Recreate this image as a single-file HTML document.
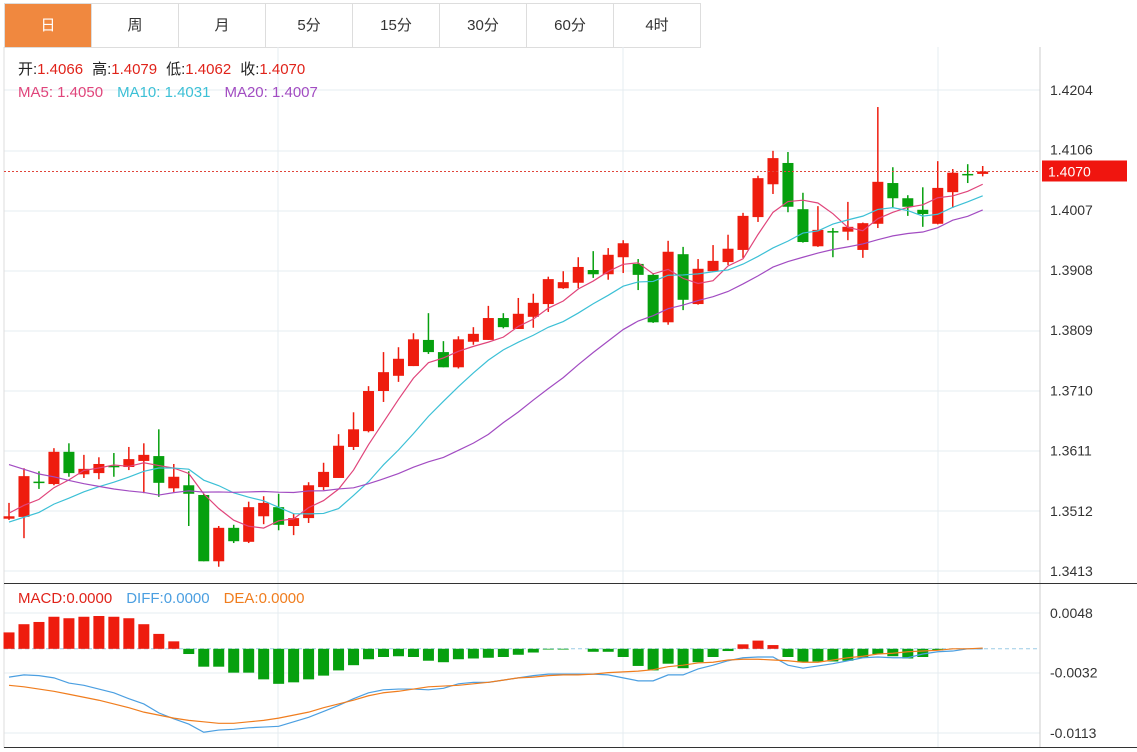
<!DOCTYPE html>
<html><head><meta charset="utf-8">
<style>
body{margin:0;background:#fff;width:1137px;height:752px;overflow:hidden;font-family:"Liberation Sans","Noto Sans CJK SC",sans-serif;}
.tabs{position:absolute;left:4px;top:3px;height:43px;display:flex;border:1px solid #ddd;border-right:none;}
.tab{width:87px;height:43px;line-height:43px;text-align:center;font-size:15px;color:#333;border-right:1px solid #ddd;box-sizing:border-box;}
.tab.on{background:#f0883f;color:#fff;}
svg{position:absolute;left:0;top:0;}
</style></head><body>
<div class="tabs">
<div class="tab on">日</div>
<div class="tab">周</div>
<div class="tab">月</div>
<div class="tab">5分</div>
<div class="tab">15分</div>
<div class="tab">30分</div>
<div class="tab">60分</div>
<div class="tab">4时</div>
</div>
<svg id="chart" width="1137" height="752" style="top:0"></svg>
<script>
const opens =[1.3499,1.3502,1.3560,1.3556,1.3609,1.3572,1.3574,1.3586,1.3584,1.3594,1.3602,1.3549,1.3554,1.3538,1.3429,1.3484,1.3461,1.3503,1.3518,1.3487,1.3500,1.3551,1.3566,1.3617,1.3643,1.3709,1.3734,1.3750,1.3793,1.3773,1.3748,1.3790,1.3793,1.3829,1.3811,1.3831,1.3852,1.3878,1.3887,1.3908,1.3901,1.3929,1.3918,1.3900,1.3822,1.3934,1.3852,1.3906,1.3921,1.3941,1.3995,1.4049,1.4084,1.4008,1.3947,1.3972,1.3971,1.3941,1.3984,1.4051,1.4026,1.4007,1.3984,1.4036,1.4066,1.4066];
const highs =[1.3525,1.3582,1.3577,1.3615,1.3623,1.3604,1.3600,1.3607,1.3617,1.3623,1.3646,1.3589,1.3577,1.3540,1.3487,1.3489,1.3527,1.3536,1.3540,1.3507,1.3559,1.3591,1.3638,1.3674,1.3717,1.3773,1.3781,1.3804,1.3837,1.3791,1.3799,1.3814,1.3849,1.3837,1.3862,1.3869,1.3897,1.3906,1.3929,1.3939,1.3944,1.3957,1.3926,1.3903,1.3956,1.3946,1.3926,1.3949,1.3966,1.4002,1.4063,1.4104,1.4102,1.4035,1.4013,1.3977,1.4020,1.3986,1.4176,1.4077,1.4031,1.4044,1.4087,1.4074,1.4082,1.4079];
const lows  =[1.3497,1.3467,1.3548,1.3554,1.3568,1.3566,1.3564,1.3568,1.3579,1.3541,1.3535,1.3543,1.3487,1.3429,1.3420,1.3459,1.3459,1.3490,1.3480,1.3472,1.3492,1.3546,1.3566,1.3612,1.3641,1.3691,1.3724,1.3750,1.3770,1.3748,1.3746,1.3785,1.3793,1.3812,1.3811,1.3813,1.3839,1.3877,1.3878,1.3895,1.3892,1.3903,1.3875,1.3821,1.3818,1.3842,1.3851,1.3905,1.3916,1.3928,1.3987,1.4033,1.4003,1.3953,1.3946,1.3929,1.3957,1.3928,1.3977,1.4010,1.3997,1.3979,1.3983,1.4010,1.4051,1.4062];
const closes=[1.3503,1.3569,1.3559,1.3609,1.3574,1.3581,1.3589,1.3584,1.3597,1.3604,1.3558,1.3568,1.3540,1.3429,1.3484,1.3462,1.3518,1.3525,1.3489,1.3500,1.3554,1.3576,1.3619,1.3646,1.3709,1.3740,1.3762,1.3794,1.3773,1.3748,1.3794,1.3803,1.3829,1.3814,1.3836,1.3854,1.3893,1.3888,1.3913,1.3901,1.3933,1.3952,1.3900,1.3822,1.3938,1.3859,1.3910,1.3923,1.3943,1.3997,1.4059,1.4092,1.4012,1.3954,1.3974,1.3971,1.3979,1.3985,1.4053,1.4026,1.4012,1.4000,1.4043,1.4068,1.4064,1.4070];
const priorCloses=[1.3727,1.3711,1.3702,1.3694,1.3686,1.3678,1.3670,1.3661,1.3653,1.3645,1.3489,1.3480,1.3472,1.3477,1.3475,1.3505,1.3510,1.3513,1.3510];
const priceTicks=["1.4204","1.4106","1.4007","1.3908","1.3809","1.3710","1.3611","1.3512","1.3413"];
// MACD values in units of 0.0001
const macdHist=[22,33,36,43,41,43,44,43,41,33,20,10,-7,-24,-24,-32,-32,-41,-47,-45,-41,-36,-29,-22,-14,-11,-10,-11,-16,-18,-14,-13,-12,-11,-8,-5,-1,-1,0,-4,-4,-11,-23,-29,-20,-26,-18,-11,-3,6,11,5,-11,-18,-17,-17,-16,-12,-7,-10,-13,-11,-2,0,0,0];
const diffVals=[-38,-35,-36,-39,-46,-49,-54,-59,-67,-74,-86,-94,-101,-112,-109,-108,-106,-105,-104,-98,-92,-84,-76,-67,-59,-55,-54,-54,-55,-53,-47,-45,-45,-42,-39,-36,-34,-34,-34,-34,-35,-39,-43,-43,-35,-35,-27,-22,-16,-12,-11,-11,-22,-26,-23,-20,-16,-12,-11,-12,-12,-7,-4,-3,0,0];
const deaVals=[-49,-51,-54,-57,-61,-65,-69,-74,-79,-85,-89,-93,-96,-98,-100,-100,-98,-96,-93,-89,-85,-79,-74,-69,-63,-59,-57,-54,-51,-50,-49,-47,-45,-42,-39,-38,-36,-35,-35,-34,-32,-31,-30,-28,-24,-22,-19,-18,-15,-14,-14,-15,-16,-18,-18,-15,-12,-10,-7,-6,-4,-3,-2,0,0,1];
const macdTicks=["0.0048","-0.0032","-0.0113"];

const NS="http://www.w3.org/2000/svg";
const svg=document.getElementById('chart');
function mk(tag,attrs,parent){const e=document.createElementNS(NS,tag);for(const k in attrs)e.setAttribute(k,attrs[k]);(parent||svg).appendChild(e);return e;}
const X0=9,DX=14.98;
const xs=i=>X0+i*DX;
const yP=p=>90+(1.4204-p)*6081;
const yM=v=>648.8-v*0.0001*7453;

// grids
[90,151,211,271,331,391,451,511,571,613,673,733].forEach(y=>{const l=mk('line',{x1:4,x2:1040,y1:y,y2:y,stroke:'#e6ecf1','stroke-width':1});

});
[278,623,938].forEach(x=>{const l=mk('line',{x1:x,x2:x,y1:47,y2:748,stroke:'#e6ecf1','stroke-width':1});

});
mk('line',{x1:4,x2:4,y1:47,y2:748,stroke:'#ddd'});
mk('line',{x1:1040,x2:1040,y1:47,y2:748,stroke:'#ccc'});
mk('line',{x1:4,x2:1137,y1:583.5,y2:583.5,stroke:'#333'});
mk('line',{x1:4,x2:1137,y1:747.5,y2:747.5,stroke:'#333'});

// price axis labels
priceTicks.forEach(t=>{const e=mk('text',{x:1050,y:yP(+t)+5,'font-size':14,fill:'#333'});e.textContent=t;

});
macdTicks.forEach(t=>{const e=mk('text',{x:1050,y:yM(+t*10000)+5,'font-size':14,fill:'#333'});e.textContent=t;

});

// candles
const RED='#ee1c0e',GREEN='#06a00e';
closes.forEach((c,i)=>{const o=opens[i],up=c>=o,col=up?RED:GREEN,x=xs(i);
const g=mk('g',{});


mk('line',{x1:x,x2:x,y1:yP(highs[i]),y2:yP(lows[i]),stroke:col,'stroke-width':1.5},g);
const top=Math.min(yP(o),yP(c)),h=Math.max(1.5,Math.abs(yP(o)-yP(c)));
mk('rect',{x:x-5.5,y:top,width:11,height:h,fill:col},g);});

// moving averages
const all=priorCloses.concat(closes);
function ma(n){return closes.map((_,i)=>{let s=0;for(let k=0;k<n;k++)s+=all[i+19-k];return s/n;});}
function line(vals,fy,col,name,w){const p=mk('polyline',{points:vals.map((v,i)=>xs(i)+','+fy(v)).join(' '),fill:'none',stroke:col,'stroke-width':w||1.2});

}
line(ma(5),yP,'#e0457b','ma5-line');
line(ma(10),yP,'#3cc0d6','ma10-line');
line(ma(20),yP,'#a24cc2','ma20-line');

// last price line
const lp=closes[closes.length-1],ly=yP(lp);
const dl=mk('line',{x1:4,x2:1040,y1:ly,y2:ly,stroke:'#e0453a','stroke-dasharray':'2,2'});


const lb=mk('rect',{x:1042,y:ly-11,width:85,height:21,fill:'#f0150f'});


const lt=mk('text',{x:1048,y:ly+5,'font-size':14,fill:'#fff'});lt.textContent=lp.toFixed(4);



// macd zero line
const zl=mk('line',{x1:4,x2:1040,y1:yM(0),y2:yM(0),stroke:'#9ccbe6','stroke-dasharray':'4,3'});


macdHist.forEach((v,i)=>{if(v===0)return;const y0=yM(0),y1=yM(v);
const r=mk('rect',{x:xs(i)-5.5,y:Math.min(y0,y1),width:11,height:Math.abs(y1-y0),fill:v>0?RED:GREEN});

});
line(diffVals,yM,'#4b9fe1','diff-line',1.2);
line(deaVals,yM,'#f07d1e','dea-line',1.2);

// legends
function txt(parts,y,name){const t=mk('text',{x:18,y:y,'font-size':15});


parts.forEach(([s,c,dx])=>{const sp=mk('tspan',{fill:c},t);if(dx)sp.setAttribute('dx',dx);sp.textContent=s;});}
txt([['开:','#222'],['1.4066','#e0231a'],['高:','#222',9],['1.4079','#e0231a'],['低:','#222',9],['1.4062','#e0231a'],['收:','#222',9],['1.4070','#e0231a']],74,'ohlc-legend');
txt([['MA5: 1.4050','#e0457b'],['MA10: 1.4031','#3cc0d6',14],['MA20: 1.4007','#a24cc2',14]],97,'ma-legend');
txt([['MACD:0.0000','#e0231a'],['DIFF:0.0000','#4b9fe1',14],['DEA:0.0000','#f07d1e',14]],603,'macd-legend');
</script>
</body></html>
